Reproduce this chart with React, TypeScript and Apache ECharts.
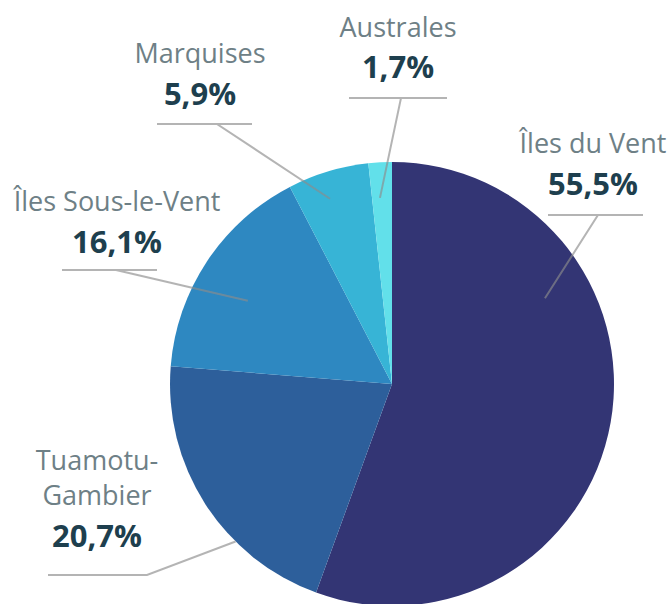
import React, { useEffect, useRef } from "react";
import * as echarts from "echarts";

// ---- data ----
const categories = ["Îles du Vent", "Tuamotu-Gambier", "Îles Sous-le-Vent", "Marquises", "Australes"];
const displayNames = ["Îles du Vent", "Tuamotu-\nGambier", "Îles Sous-le-Vent", "Marquises", "Australes"];
const shares = [55.5, 20.7, 16.1, 5.9, 1.7];
const sliceColors = ["#333574", "#2d5f9b", "#2e88c1", "#37b4d6", "#62e0ea"];

// ---- layout (label placement, not data) ----
const CX = 392;
const CY = 384;
const R = 222;
// x: label centre, y: label top, ul: underline y, ul0/ul1: underline ends, jx: junction x,
// ang: angle (deg clockwise from top) of line end inside pie, frac: radius fraction
const labelPlacement = [
  { x: 593, y: 125, ul: 215, ul0: 548, ul1: 643, jx: 598, ang: 60.7, frac: 0.79 },
  { x: 97, y: 442, ul: 575, ul0: 48, ul1: 147, jx: 147, ang: 224.8, frac: 1.0 },
  { x: 117, y: 183, ul: 270, ul0: 62, ul1: 157, jx: 116, ang: 300, frac: 0.75 },
  { x: 200, y: 35, ul: 124, ul0: 157, ul1: 252, jx: 217, ang: 341.5, frac: 0.88 },
  { x: 398, y: 8.5, ul: 98, ul0: 349, ul1: 447, jx: 401, ang: 356.3, frac: 0.84 },
];

const fmtPct = (v: number) => v.toFixed(1).replace(".", ",") + "%";

export default function App() {
  const ref = useRef<HTMLDivElement>(null);
  useEffect(() => {
    if (!ref.current) return;
    const chart = echarts.init(ref.current, undefined, { renderer: "svg" });
    const base = {
      type: "pie",
      center: [CX, CY],
      radius: R,
      startAngle: 90,
      clockwise: true,
      avoidLabelOverlap: false,
      silent: true,
      emphasis: { disabled: true },
    };
    chart.setOption({
      animation: false,
      backgroundColor: "#ffffff",
      series: [
        {
          ...base,
          z: 2,
          data: categories.map((c, i) => ({
            name: c,
            value: shares[i],
            itemStyle: { color: sliceColors[i] },
          })),
          label: { show: false },
          labelLine: { show: false },
        },
        {
          ...base,
          z: 5,
          data: categories.map((c, i) => ({
            name: c,
            value: shares[i],
            itemStyle: { color: "rgba(0,0,0,0)" },
          })),
          label: {
            show: true,
            position: "outside",
            formatter: (p: any) => {
              const nm = displayNames[p.dataIndex]
                .split("\n")
                .map((s) => `{n|${s}}`)
                .join("\n");
              return `${nm}\n{p|${fmtPct(p.value)}}`;
            },
            rich: {
              n: {
                fontSize: 27,
                fontFamily: "Open Sans",
                color: "#6e8086",
                lineHeight: 35,
                align: "center",
              },
              p: {
                fontSize: 31,
                fontFamily: "Open Sans",
                fontWeight: "bold",
                color: "#1e3f4e",
                lineHeight: 45,
                align: "center",
              },
            },
          },
          labelLine: {
            show: true,
            showAbove: true,
            lineStyle: { color: "rgba(140,140,140,0.65)", width: 2 },
          },
          labelLayout: (params: any) => {
            const L = labelPlacement[params.dataIndex];
            const a = (L.ang * Math.PI) / 180;
            const inner = [CX + R * L.frac * Math.sin(a), CY - R * L.frac * Math.cos(a)];
            return {
              x: L.x,
              y: L.y,
              align: "center",
              verticalAlign: "top",
              labelLinePoints: [inner, [L.jx, L.ul], [L.ul1, L.ul], [L.ul0, L.ul]],
            };
          },
        },
      ],
    });
    return () => chart.dispose();
  }, []);
  return (
    <div
      ref={ref}
      style={{ position: "absolute", left: 0, top: 0, width: 672, height: 604 }}
    />
  );
}
